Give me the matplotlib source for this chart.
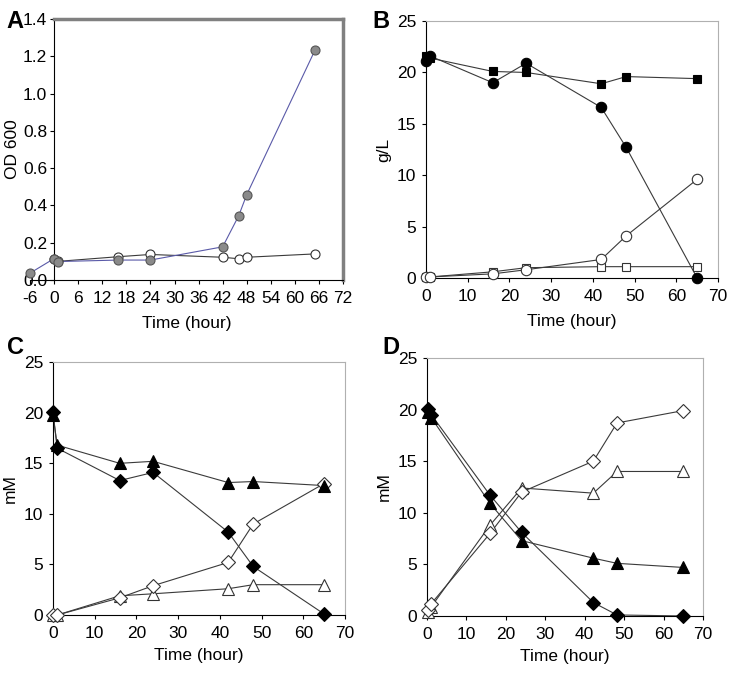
import matplotlib.pyplot as plt
import numpy as np

plt.rcParams["font.family"] = ["Liberation Sans", "DejaVu Sans"]
plt.rcParams["font.size"] = 12.5
plt.rcParams["axes.unicode_minus"] = False

# Panel A: OD 600
time_a_grey = [-6, 0, 1, 16, 24, 42, 46, 48, 65]
od_grey = [0.037, 0.115, 0.099, 0.107, 0.107, 0.178, 0.345, 0.458, 1.233]
time_a_open = [0, 1, 16, 24, 42, 46, 48, 65]
od_open = [0.11, 0.10, 0.125, 0.137, 0.122, 0.114, 0.122, 0.140]

# Panel B: g/L
time_b = [0, 1, 16, 24, 42, 48, 65]
b_fill_square = [21.6, 21.4, 20.1, 20.0, 18.9, 19.6, 19.4]
b_fill_circle = [21.1, 21.6, 19.0, 20.9, 16.6, 12.7, 0.0]
b_open_circle = [0.1, 0.1, 0.4, 0.8, 1.8, 4.1, 9.6]
b_open_square = [0.1, 0.1, 0.6, 1.0, 1.1, 1.1, 1.1]

# Panel C: mM
time_c = [0, 1, 16, 24, 42, 48, 65]
c_fill_triangle = [19.8, 16.8, 15.0, 15.2, 13.1, 13.2, 12.8]
c_fill_diamond = [20.1, 16.5, 13.3, 14.1, 8.2, 4.8, 0.1]
c_open_diamond = [0.0, 0.0, 1.7, 2.9, 5.2, 9.0, 13.0]
c_open_triangle = [0.0, 0.0, 1.9, 2.1, 2.6, 3.0, 3.0]

# Panel D: mM
time_d = [0.3, 1.1, 16, 24, 42.2, 48.2, 65]
d_fill_diamond = [20.1, 19.5, 11.7, 8.1, 1.3, 0.1, 0.0]
d_fill_triangle = [19.8, 19.2, 10.9, 7.3, 5.6, 5.1, 4.7]
d_open_diamond = [0.6, 1.2, 8.0, 12.0, 15.0, 18.7, 19.9]
d_open_triangle = [0.4, 0.9, 8.8, 12.4, 11.9, 14.0, 14.0]

LINE = "#3a3a3a"


def series(ax, x, y, marker, filled, ms, color=LINE, face=None, edge=None):
    if face is None:
        face = "black" if filled else "white"
    if edge is None:
        edge = "black" if filled else "#333333"
    ax.plot(x, y, color=color, linewidth=0.8, zorder=2)
    ax.plot(x, y, linestyle="none", marker=marker, markersize=ms,
            markerfacecolor=face, markeredgecolor=edge, markeredgewidth=0.8, zorder=3)


def ticks(ax):
    ax.tick_params(direction="out", length=3, width=0.8)
    ax.tick_params(axis="x", pad=5)
    ax.tick_params(axis="y", pad=4)


def style_box(ax):
    for side in ("top", "right"):
        ax.spines[side].set_color("#b0b0b0")
        ax.spines[side].set_linewidth(0.8)
    for side in ("left", "bottom"):
        ax.spines[side].set_color("black")
        ax.spines[side].set_linewidth(0.8)
    ticks(ax)


fig = plt.figure(figsize=(7.29, 6.76), dpi=100)

# A
ax_a = fig.add_axes([0.0412, 0.5858, 0.4294, 0.386])
series(ax_a, time_a_open, od_open, "o", False, 6.5)
series(ax_a, time_a_grey, od_grey, "o", True, 6.5, color="#5a5aa8", face="#8a8a8a", edge="#555555")
ax_a.set_xlim(-6, 72)
ax_a.set_ylim(0, 1.4)
ax_a.set_xticks(np.arange(-6, 73, 6))
ax_a.set_yticks(np.arange(0, 1.41, 0.2))
ax_a.set_yticklabels([f"{v:.1f}" for v in np.arange(0, 1.41, 0.2)])
ax_a.spines["left"].set_position(("data", 0))
ax_a.spines["left"].set_linewidth(0.8)
ax_a.spines["bottom"].set_linewidth(0.8)
ax_a.spines["top"].set_bounds(0, 72)
for side in ("top", "right"):
    ax_a.spines[side].set_color("#808080")
    ax_a.spines[side].set_linewidth(2.5)
ticks(ax_a)
ax_a.tick_params(axis="y", pad=2)
ax_a.set_ylabel("OD 600")
ax_a.yaxis.set_label_coords(-0.032, 0.5)
ax_a.set_xlabel("Time (hour)", labelpad=7)

# B
ax_b = fig.add_axes([0.5844, 0.5888, 0.4005, 0.380])
series(ax_b, time_b, b_open_square, "s", False, 6)
series(ax_b, time_b, b_open_circle, "o", False, 7.5)
series(ax_b, time_b, b_fill_square, "s", True, 6)
series(ax_b, time_b, b_fill_circle, "o", True, 7.5)
ax_b.set_xlim(0, 70)
ax_b.set_ylim(0, 25)
ax_b.set_xticks(range(0, 71, 10))
ax_b.set_yticks(range(0, 26, 5))
style_box(ax_b)
ax_b.set_ylabel("g/L")
ax_b.set_xlabel("Time (hour)", labelpad=7)

# C
ax_c = fig.add_axes([0.0727, 0.0902, 0.4005, 0.374])
series(ax_c, time_c, c_open_triangle, "^", False, 8.5)
series(ax_c, time_c, c_open_diamond, "D", False, 7)
series(ax_c, time_c, c_fill_diamond, "D", True, 7)
series(ax_c, time_c, c_fill_triangle, "^", True, 8.5)
ax_c.set_xlim(0, 70)
ax_c.set_ylim(0, 25)
ax_c.set_xticks(range(0, 71, 10))
ax_c.set_yticks(range(0, 26, 5))
style_box(ax_c)
ax_c.set_ylabel("mM")
ax_c.set_xlabel("Time (hour)", labelpad=5)

# D
ax_d = fig.add_axes([0.5857, 0.0888, 0.3786, 0.3817])
series(ax_d, time_d, d_open_triangle, "^", False, 8.5)
series(ax_d, time_d, d_open_diamond, "D", False, 7)
series(ax_d, time_d, d_fill_triangle, "^", True, 8.5)
series(ax_d, time_d, d_fill_diamond, "D", True, 7)
ax_d.set_xlim(0, 70)
ax_d.set_ylim(0, 25)
ax_d.set_xticks(range(0, 71, 10))
ax_d.set_yticks(range(0, 26, 5))
style_box(ax_d)
ax_d.set_ylabel("mM")
ax_d.set_xlabel("Time (hour)", labelpad=5)

for ax in (ax_a, ax_b, ax_c, ax_d):
    for p in ax.lines:
        p.set_clip_on(False)

for label, x, y in (("A", 0.021, 0.985), ("B", 0.523, 0.985),
                    ("C", 0.021, 0.503), ("D", 0.536, 0.503)):
    fig.text(x, y, label, fontsize=17, fontweight="bold", ha="center", va="top")

fig.savefig("out.png", dpi=100)
